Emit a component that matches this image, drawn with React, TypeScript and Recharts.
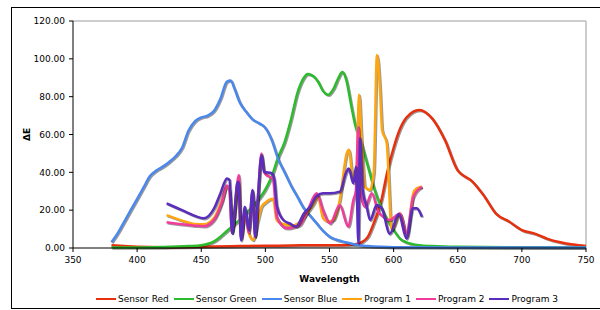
import React from 'react';
import { LineChart, Line, XAxis, YAxis, ReferenceLine } from 'recharts';

const FONT = '"DejaVu Sans", Verdana, sans-serif';

const xTicks = [350, 400, 450, 500, 550, 600, 650, 700, 750];
const yTicks = [0, 20, 40, 60, 80, 100, 120];

// sensor curves
const redWl = [380, 390, 400, 420, 440, 460, 480, 500, 520, 540, 560, 570, 575, 580, 585, 590, 595, 600, 605, 610, 620, 630, 640, 650, 655, 660, 670, 680, 690, 700, 710, 720, 730, 740, 750];
const redVal = [1.5, 1, 0.6, 0.4, 0.5, 0.8, 1, 1.2, 1.3, 1.5, 1.5, 2, 3, 6, 14, 24, 40, 53, 63, 69, 73, 68.5, 57, 41, 38, 36, 28, 18, 14, 9.5, 7.6, 4.8, 3, 1.8, 1];

const greenWl = [380, 400, 420, 440, 450, 460, 465, 470, 480, 490, 500, 505, 510, 515, 520, 525, 530, 533, 537, 541, 545, 549, 553, 557, 560, 563, 567, 570, 575, 580, 585, 590, 595, 600, 605, 610, 620, 630, 650, 700, 750];
const greenVal = [0.2, 0.3, 0.5, 1, 1.5, 3.5, 6, 9, 15, 22, 31, 38, 48, 56, 68, 82, 90, 92, 91, 88, 83, 81, 84, 90, 93, 89, 75, 65, 55, 43, 31, 22, 15, 9.5, 5, 3, 1.5, 1, 0.6, 0.4, 0.3];

const blueWl = [380, 385, 390, 395, 400, 405, 410, 415, 420, 425, 430, 435, 440, 445, 450, 455, 460, 465, 470, 473, 476, 480, 485, 490, 495, 500, 505, 510, 515, 520, 525, 530, 535, 540, 545, 550, 555, 560, 566, 570, 580, 590, 600, 650, 700, 750];
const blueVal = [3, 8, 14, 20, 26, 32, 38, 41, 43, 45.5, 48.5, 53, 62, 67, 69, 70, 72.5, 79, 88, 88.5, 84, 77, 72, 68, 66, 63.5, 57, 47, 40, 33, 27, 21, 17, 13, 9, 6, 4.5, 3.5, 2.5, 1.8, 1, 0.6, 0.4, 0.3, 0.3, 0.3];

// measured programs
const p1Wl = [423, 435, 445, 452, 460, 466, 470, 472, 474, 476, 478, 479, 481, 484, 487, 490.5, 494, 497, 500, 506, 508.8, 516.5, 522, 527, 532, 537, 541, 545, 549, 553, 558, 563.4, 565, 568.6, 571, 573, 575, 577.7, 581.6, 584.5, 587, 589.4, 591, 594.6, 598.5, 605, 610, 615.3, 618, 622];
const p1Val = [17.4, 14.5, 12.7, 12.5, 16, 25, 32.4, 30, 8, 18, 33, 30, 6, 18, 8, 4.2, 14, 21.8, 24, 26, 14.8, 12.2, 12, 13.9, 18, 22.7, 27, 15.7, 14, 14.8, 25.4, 50, 52, 36, 40, 81, 57, 32.4, 30.7, 40, 102, 83.5, 62.4, 55.4, 9.5, 18.3, 6, 28.9, 31.5, 32.4];

const p2Wl = [423, 435, 445, 452, 460, 466, 470, 472, 474, 476, 479.4, 481, 484, 487, 490, 492, 494, 497, 499, 506, 508.8, 516.5, 522, 527, 533, 540, 545, 550.4, 558, 564.6, 568.6, 570.5, 572.5, 574, 577.7, 583, 588, 591, 597, 605, 610, 615.3, 622];
const p2Val = [13.6, 12.5, 11.8, 11.5, 15, 24, 33, 30, 8, 20, 38.6, 5, 20, 8, 30, 6, 25, 50, 40, 36, 16.5, 10.4, 11, 12.2, 20, 28.9, 20, 13, 22.7, 11.3, 25.4, 30, 64, 30, 21.8, 28.9, 19.2, 17, 14.8, 18.3, 7.8, 27, 32.4];

const p3Wl = [423, 435, 445, 452, 460, 465, 470, 472, 474, 476, 478, 479, 481, 484, 487, 490, 492, 494, 497, 499, 505, 507, 509, 514, 519, 524, 530, 535, 540, 545, 550, 558, 563, 565, 568.6, 570.7, 572.5, 573.8, 576, 579, 581.6, 586.8, 590.7, 597, 604, 610, 615, 618, 622];
const p3Val = [23.6, 20, 17, 15.7, 21, 29, 36.8, 36, 7.8, 20, 34.2, 35, 4, 21.8, 9.5, 30.7, 6, 25, 49, 40.3, 39.5, 36, 22, 14.8, 13, 11.3, 18.3, 22, 27.5, 28.9, 28.9, 29.8, 40, 42, 34.2, 43, 2.5, 58, 30, 21.8, 14.8, 22.7, 21, 7.5, 18, 5, 21, 21, 16.5];

const zip = (wl: number[], v: number[]) => wl.map((w, i) => ({ wl: w, v: v[i] }));

const series = [
  { name: 'Sensor Red', color: '#e8300e', data: zip(redWl, redVal) },
  { name: 'Sensor Green', color: '#2cbb2c', data: zip(greenWl, greenVal) },
  { name: 'Sensor Blue', color: '#4a88ee', data: zip(blueWl, blueVal) },
  { name: 'Program 1', color: '#ffa50f', data: zip(p1Wl, p1Val) },
  { name: 'Program 2', color: '#f23c9c', data: zip(p2Wl, p2Val) },
  { name: 'Program 3', color: '#5a2dbe', data: zip(p3Wl, p3Val) },
];

const tickStyle = { fontSize: 9, fill: '#000', fontFamily: FONT };

export default function App() {
  return (
    <div
      style={{
        position: 'fixed',
        left: 0,
        top: 0,
        width: 600,
        height: 310,
        background: '#fff',
        overflow: 'hidden',
        fontFamily: FONT,
      }}
    >
      <style>{`.shadowed .recharts-line-curve { filter: drop-shadow(1px 1.5px 0.4px rgba(0,0,0,0.4)); }`}</style>
      {/* outer chart frame */}
      <div style={{ position: 'absolute', left: 11, top: 7, width: 620, height: 1, background: '#000' }} />
      <div style={{ position: 'absolute', left: 11, top: 7, width: 1, height: 302, background: '#000' }} />
      <div style={{ position: 'absolute', left: 11, top: 308, width: 620, height: 1, background: '#000' }} />
      <div className="shadowed" style={{ position: 'absolute', left: 0, top: 0 }}>
        <LineChart width={600} height={310} margin={{ top: 21, right: 14, bottom: 26, left: 13 }}>
          <XAxis
            type="number"
            dataKey="wl"
            domain={[350, 750]}
            ticks={xTicks}
            allowDataOverflow
            height={36}
            tickSize={4}
            tickMargin={5}
            tick={tickStyle}
            axisLine={{ stroke: '#000' }}
            tickLine={{ stroke: '#000' }}
            label={{
              value: 'Wavelength',
              position: 'insideBottom',
              offset: 2,
              style: { fontWeight: 'bold', fontSize: 9, fill: '#000', fontFamily: FONT },
            }}
          />
          <YAxis
            type="number"
            domain={[0, 120]}
            ticks={yTicks}
            width={60}
            tickSize={4}
            tickMargin={4}
            tick={tickStyle}
            tickFormatter={(v: number) => v.toFixed(2)}
            axisLine={{ stroke: '#000' }}
            tickLine={{ stroke: '#000' }}
            label={{
              value: 'ΔE',
              angle: -90,
              position: 'insideLeft',
              offset: 14,
              style: { textAnchor: 'middle', fontWeight: 'bold', fontSize: 9, fill: '#000', fontFamily: FONT },
            }}
          />
          <ReferenceLine y={120} stroke="#bdbdbd" strokeWidth={1.5} />
          <ReferenceLine x={750} stroke="#bdbdbd" strokeWidth={1.5} />
          {series.map((s) => (
            <Line
              key={s.name}
              data={s.data}
              dataKey="v"
              name={s.name}
              type="monotone"
              stroke={s.color}
              strokeWidth={2.5}
              dot={false}
              activeDot={false}
              isAnimationActive={false}
            />
          ))}
        </LineChart>
      </div>
      <div
        style={{
          position: 'absolute',
          left: 73,
          width: 513,
          top: 293,
          display: 'flex',
          justifyContent: 'center',
          fontSize: 9,
          color: '#000',
          lineHeight: '12px',
        }}
      >
        {series.map((s) => (
          <div key={s.name} style={{ display: 'flex', alignItems: 'center', marginRight: 5 }}>
            <span style={{ display: 'inline-block', width: 20, height: 2, background: s.color, marginRight: 2 }} />
            <span>{s.name}</span>
          </div>
        ))}
      </div>
    </div>
  );
}
